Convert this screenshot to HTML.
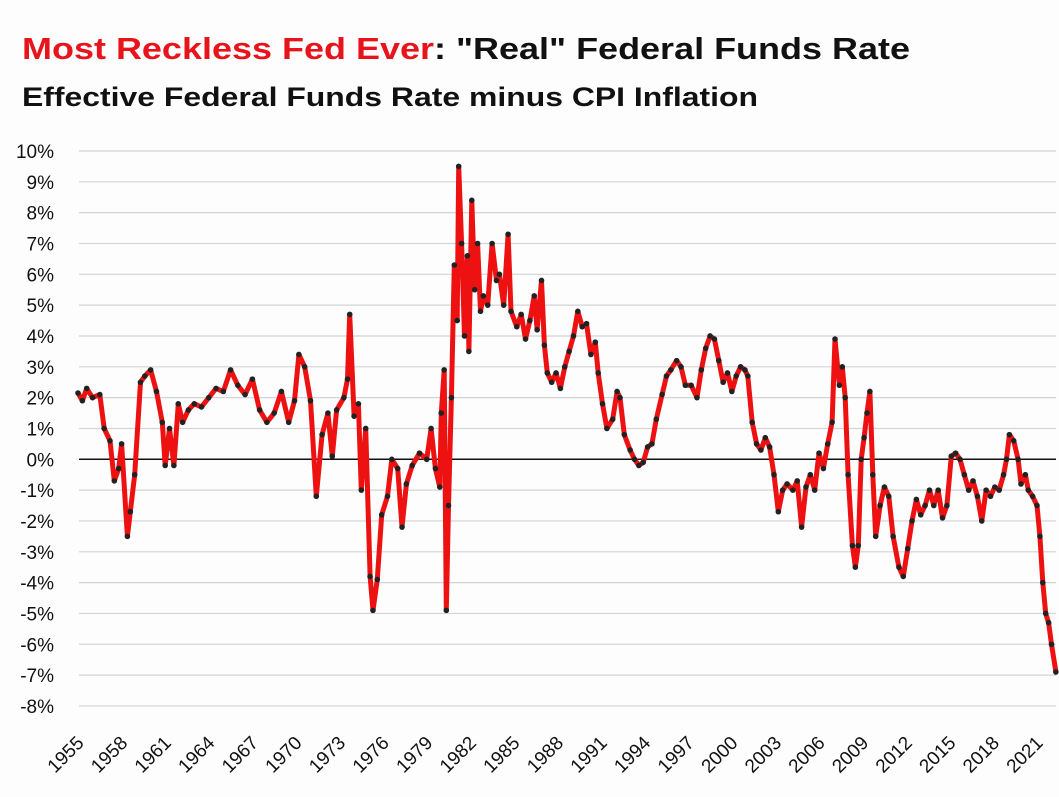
<!DOCTYPE html>
<html><head><meta charset="utf-8"><style>
html,body{margin:0;padding:0;background:#fff}
svg{display:block}
text{font-family:"Liberation Sans",sans-serif}
</style></head><body>
<svg id="chart" width="1059" height="797" viewBox="0 0 1059 797">
<rect width="1059" height="797" fill="#fdfdfe"/>
<text x="22" y="59" font-size="31" font-weight="bold" textLength="888" lengthAdjust="spacingAndGlyphs"><tspan fill="#e8141b">Most Reckless Fed Ever</tspan><tspan fill="#111">: "Real" Federal Funds Rate</tspan></text>
<text x="22" y="106" font-size="27" font-weight="bold" fill="#111" textLength="736" lengthAdjust="spacingAndGlyphs">Effective Federal Funds Rate minus CPI Inflation</text>
<g id="grid"></g><g id="ylabels"></g><g id="xlabels"></g><g id="series"></g>
</svg>
<script>
const yTicks=[10,9,8,7,6,5,4,3,2,1,0,-1,-2,-3,-4,-5,-6,-7,-8];
const xTickYears=[1955,1958,1961,1964,1967,1970,1973,1976,1979,1982,1985,1988,1991,1994,1997,2000,2003,2006,2009,2012,2015,2018,2021];
const years=[1955.0,1955.3,1955.6,1956.0,1956.5,1956.8,1957.2,1957.5,1957.8,1958.0,1958.4,1958.6,1958.9,1959.3,1959.6,1960.0,1960.4,1960.8,1961.0,1961.3,1961.6,1961.9,1962.2,1962.6,1963.0,1963.5,1964.0,1964.5,1965.0,1965.5,1966.0,1966.5,1967.0,1967.5,1968.0,1968.5,1969.0,1969.5,1969.9,1970.2,1970.6,1971.0,1971.4,1971.8,1972.2,1972.5,1972.8,1973.3,1973.55,1973.7,1974.0,1974.3,1974.5,1974.8,1975.1,1975.3,1975.6,1975.9,1976.3,1976.6,1977.0,1977.3,1977.6,1978.0,1978.5,1979.0,1979.3,1979.6,1979.9,1980.0,1980.2,1980.35,1980.5,1980.7,1980.9,1981.1,1981.2,1981.4,1981.6,1981.8,1981.9,1982.1,1982.3,1982.5,1982.7,1982.9,1983.2,1983.5,1983.8,1984.0,1984.3,1984.6,1984.8,1985.2,1985.5,1985.8,1986.1,1986.4,1986.6,1986.9,1987.1,1987.3,1987.6,1987.9,1988.2,1988.5,1988.8,1989.1,1989.4,1989.7,1990.0,1990.3,1990.6,1990.8,1991.1,1991.4,1991.8,1992.1,1992.3,1992.6,1993.0,1993.3,1993.6,1993.9,1994.2,1994.5,1994.8,1995.2,1995.5,1995.8,1996.2,1996.5,1996.8,1997.2,1997.6,1997.9,1998.2,1998.5,1998.8,1999.1,1999.4,1999.7,2000.0,2000.3,2000.6,2000.9,2001.1,2001.4,2001.7,2002.0,2002.3,2002.6,2002.9,2003.2,2003.5,2003.8,2004.2,2004.5,2004.8,2005.1,2005.4,2005.7,2006.0,2006.3,2006.6,2006.9,2007.1,2007.4,2007.6,2007.8,2008.0,2008.3,2008.5,2008.7,2008.9,2009.1,2009.3,2009.5,2009.7,2009.9,2010.2,2010.5,2010.8,2011.1,2011.5,2011.8,2012.1,2012.4,2012.7,2013.0,2013.3,2013.6,2013.9,2014.2,2014.5,2014.8,2015.1,2015.4,2015.7,2016.0,2016.3,2016.6,2016.9,2017.2,2017.5,2017.8,2018.1,2018.4,2018.7,2018.9,2019.1,2019.4,2019.7,2019.9,2020.2,2020.4,2020.7,2021.0,2021.2,2021.4,2021.6,2021.8,2022.0,2022.3];
const rates=[2.15,1.9,2.3,2.0,2.1,1.0,0.6,-0.7,-0.3,0.5,-2.5,-1.7,-0.5,2.5,2.7,2.9,2.2,1.2,-0.2,1.0,-0.2,1.8,1.2,1.6,1.8,1.7,2.0,2.3,2.2,2.9,2.4,2.1,2.6,1.6,1.2,1.5,2.2,1.2,1.9,3.4,3.0,1.9,-1.2,0.8,1.5,0.1,1.6,2.0,2.6,4.7,1.4,1.8,-1.0,1.0,-3.8,-4.9,-3.9,-1.8,-1.2,0.0,-0.3,-2.2,-0.8,-0.2,0.2,0.0,1.0,-0.3,-0.9,1.5,2.9,-4.9,-1.5,2.0,6.3,4.5,9.5,7.0,4.0,6.6,3.5,8.4,5.5,7.0,4.8,5.3,5.0,7.0,5.8,6.0,5.0,7.3,4.8,4.3,4.7,3.9,4.5,5.3,4.2,5.8,3.7,2.8,2.5,2.8,2.3,3.0,3.5,4.0,4.8,4.3,4.4,3.4,3.8,2.8,1.8,1.0,1.3,2.2,2.0,0.8,0.3,0.0,-0.2,-0.1,0.4,0.5,1.3,2.1,2.7,2.9,3.2,3.0,2.4,2.4,2.0,2.9,3.6,4.0,3.9,3.2,2.5,2.8,2.2,2.7,3.0,2.9,2.7,1.2,0.5,0.3,0.7,0.4,-0.5,-1.7,-1.0,-0.8,-1.0,-0.7,-2.2,-0.9,-0.5,-1.0,0.2,-0.3,0.5,1.2,3.9,2.4,3.0,2.0,-0.5,-2.8,-3.5,-2.8,0.0,0.7,1.5,2.2,-0.5,-2.5,-1.5,-0.9,-1.2,-2.5,-3.5,-3.8,-2.9,-2.0,-1.3,-1.8,-1.5,-1.0,-1.5,-1.0,-1.9,-1.5,0.1,0.2,0.0,-0.5,-1.0,-0.7,-1.2,-2.0,-1.0,-1.2,-0.9,-1.0,-0.5,0.0,0.8,0.6,0.0,-0.8,-0.5,-1.0,-1.2,-1.5,-2.5,-4.0,-5.0,-5.3,-6.0,-6.9];

const NS="http://www.w3.org/2000/svg";
const X0=78, XS=14.53, Y0=459.3, YS=30.83;
function xScale(yr){return X0+(yr-1955)*XS;}
function yScale(v){return Y0-v*YS;}
function mk(tag,attrs,parent){const e=document.createElementNS(NS,tag);for(const k in attrs)e.setAttribute(k,attrs[k]);parent.appendChild(e);return e;}
const grid=document.getElementById('grid'),yl=document.getElementById('ylabels'),xl=document.getElementById('xlabels'),ser=document.getElementById('series');
yTicks.forEach(t=>{
  const y=yScale(t);
  if(t!==0){const g=mk('line',{x1:79,x2:1056,y1:y,y2:y,stroke:'#d4d4d8','stroke-width':1.2},grid);
  
  }
  const tx=mk('text',{x:54,y:y+7,'font-size':19,'text-anchor':'end',fill:'#111'},yl);
  tx.textContent=t+'%';
  
  
});
xTickYears.forEach(yr=>{
  const x=xScale(yr)+7;
  const tx=mk('text',{x:x,y:744,'font-size':19,'text-anchor':'end',fill:'#111',transform:`rotate(-45 ${x} 744)`},xl);
  tx.textContent=yr;
  
  
});
const zl=mk('line',{x1:79,x2:1056,y1:yScale(0),y2:yScale(0),stroke:'#111','stroke-width':1.5},grid);


const pts=years.map((yr,i)=>xScale(yr).toFixed(1)+','+yScale(rates[i]).toFixed(1)).join(' ');
const line=mk('polyline',{points:pts,fill:'none',stroke:'#ee1111','stroke-width':5,'stroke-linejoin':'round'},ser);


years.forEach((yr,i)=>{
  const c=mk('circle',{cx:xScale(yr),cy:yScale(rates[i]),r:2.8,fill:'#222'},ser);
  
  
});
</script>
</body></html>
